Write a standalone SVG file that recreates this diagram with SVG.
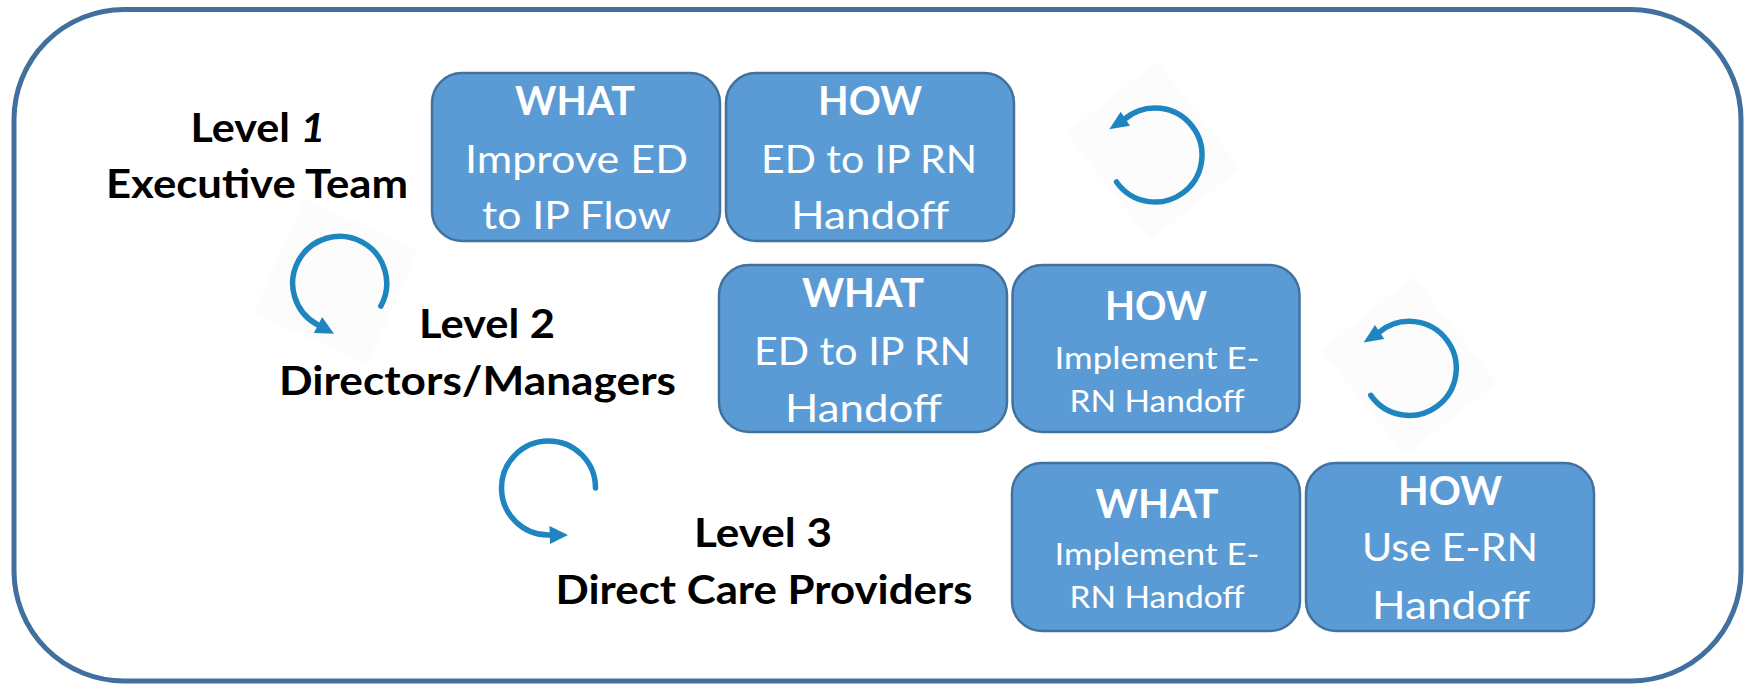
<svg xmlns="http://www.w3.org/2000/svg" xmlns:xlink="http://www.w3.org/1999/xlink" width="1744" height="685" viewBox="0 0 1744 685">
<style>
.box{fill:#5B9BD5;stroke:#41719C;stroke-width:2.5}
.t{font-family:Lato,"Open Sans","Liberation Sans",sans-serif;fill:#FFFFFF;text-anchor:middle}
.b{font-weight:bold;font-size:40.5px}
.r{font-size:39.5px}
.s{font-size:30px}
.lab{font-family:Lato,"Open Sans","Liberation Sans",sans-serif;font-weight:bold;font-size:40px;fill:#000000;text-anchor:middle}
.ring{fill:none;stroke:#1E85C0;stroke-width:5.5;stroke-linecap:round}
.head{fill:#1E85C0}
.dia{fill:#FCFCFC}
</style>
<defs>
<g id="iconA">
<path class="ring" d="M -38.5 27 A 47 47 0 1 0 -29.6 -36.5"/>
<polygon class="head" points="-34.3,-43.3 -25,-29.3 -45.7,-25.7"/>
</g>
<g id="iconB">
<path class="ring" d="M 47 0 A 47 47 0 1 0 0.8 47"/>
<polygon class="head" points="1,38 1.5,56 19.5,47"/>
</g>
</defs>
<rect x="0" y="0" width="1744" height="685" fill="#FFFFFF"/>
<rect id="frame" x="14" y="9.5" width="1727" height="671.5" rx="110" ry="110" fill="#FFFFFF" stroke="#41709E" stroke-width="5"/>

<g id="connectors">
<polygon class="dia" points="1066.7,133.3 1156.6,61.6 1240,168.3 1150,240"/>
<polygon class="dia" points="1321.7,350 1413.3,276.7 1496.7,383.3 1405,455"/>
<polygon class="dia" points="253.3,313.3 304.2,199.2 418.3,250 367.5,364.2"/>
<use xlink:href="#iconA" href="#iconA" transform="translate(1155,155)"/>
<use xlink:href="#iconA" href="#iconA" transform="translate(1409.3,368.3)"/>
<use xlink:href="#iconB" href="#iconB" transform="translate(339.7,283.3) rotate(29)"/>
<use xlink:href="#iconB" href="#iconB" transform="translate(548.5,488)"/>
</g>

<g id="level1">
<text class="lab" x="258" y="142" textLength="135" lengthAdjust="spacingAndGlyphs">Level <tspan font-style="italic">1</tspan></text>
<text class="lab" x="257" y="198" textLength="302" lengthAdjust="spacingAndGlyphs">Executive Team</text>
</g>
<g id="level2">
<text class="lab" x="487" y="338.3" textLength="136" lengthAdjust="spacingAndGlyphs">Level 2</text>
<text class="lab" x="477.5" y="395" textLength="397" lengthAdjust="spacingAndGlyphs">Directors/Managers</text>
</g>
<g id="level3">
<text class="lab" x="763" y="547" textLength="138" lengthAdjust="spacingAndGlyphs">Level 3</text>
<text class="lab" x="764" y="604" textLength="417" lengthAdjust="spacingAndGlyphs">Direct Care Providers</text>
</g>

<g id="what1">
<rect class="box" x="432" y="73" width="288" height="168" rx="30" ry="30"/>
<text class="t b" x="575" y="115" textLength="120" lengthAdjust="spacingAndGlyphs">WHAT</text>
<text class="t r" x="576.5" y="173.3" textLength="223" lengthAdjust="spacingAndGlyphs">Improve ED</text>
<text class="t r" x="576.5" y="229.3" textLength="189" lengthAdjust="spacingAndGlyphs">to IP Flow</text>
</g>
<g id="how1">
<rect class="box" x="726" y="73" width="288" height="168" rx="30" ry="30"/>
<text class="t b" x="870" y="115" textLength="104" lengthAdjust="spacingAndGlyphs">HOW</text>
<text class="t r" x="869" y="173.3" textLength="216" lengthAdjust="spacingAndGlyphs">ED to IP RN</text>
<text class="t r" x="870" y="229.3" textLength="158" lengthAdjust="spacingAndGlyphs">Handoff</text>
</g>
<g id="what2">
<rect class="box" x="719" y="265" width="288" height="167" rx="30" ry="30"/>
<text class="t b" x="863" y="307" textLength="122" lengthAdjust="spacingAndGlyphs">WHAT</text>
<text class="t r" x="862.5" y="365" textLength="217" lengthAdjust="spacingAndGlyphs">ED to IP RN</text>
<text class="t r" x="863.5" y="421.7" textLength="157" lengthAdjust="spacingAndGlyphs">Handoff</text>
</g>
<g id="how2">
<rect class="box" x="1012.5" y="265" width="287" height="167" rx="30" ry="30"/>
<text class="t b" x="1156" y="320.3" textLength="102" lengthAdjust="spacingAndGlyphs">HOW</text>
<text class="t s" x="1157" y="368.7" textLength="205" lengthAdjust="spacingAndGlyphs">Implement E-</text>
<text class="t s" x="1157" y="412" textLength="175" lengthAdjust="spacingAndGlyphs">RN Handoff</text>
</g>
<g id="what3">
<rect class="box" x="1012" y="463" width="288" height="168" rx="30" ry="30"/>
<text class="t b" x="1157" y="517.7" textLength="123" lengthAdjust="spacingAndGlyphs">WHAT</text>
<text class="t s" x="1157" y="565" textLength="205" lengthAdjust="spacingAndGlyphs">Implement E-</text>
<text class="t s" x="1157" y="608.3" textLength="175" lengthAdjust="spacingAndGlyphs">RN Handoff</text>
</g>
<g id="how3">
<rect class="box" x="1306" y="463" width="288" height="168" rx="30" ry="30"/>
<text class="t b" x="1450" y="505" textLength="104" lengthAdjust="spacingAndGlyphs">HOW</text>
<text class="t r" x="1450" y="561" textLength="176" lengthAdjust="spacingAndGlyphs">Use E-RN</text>
<text class="t r" x="1451" y="619" textLength="158" lengthAdjust="spacingAndGlyphs">Handoff</text>
</g>
</svg>
